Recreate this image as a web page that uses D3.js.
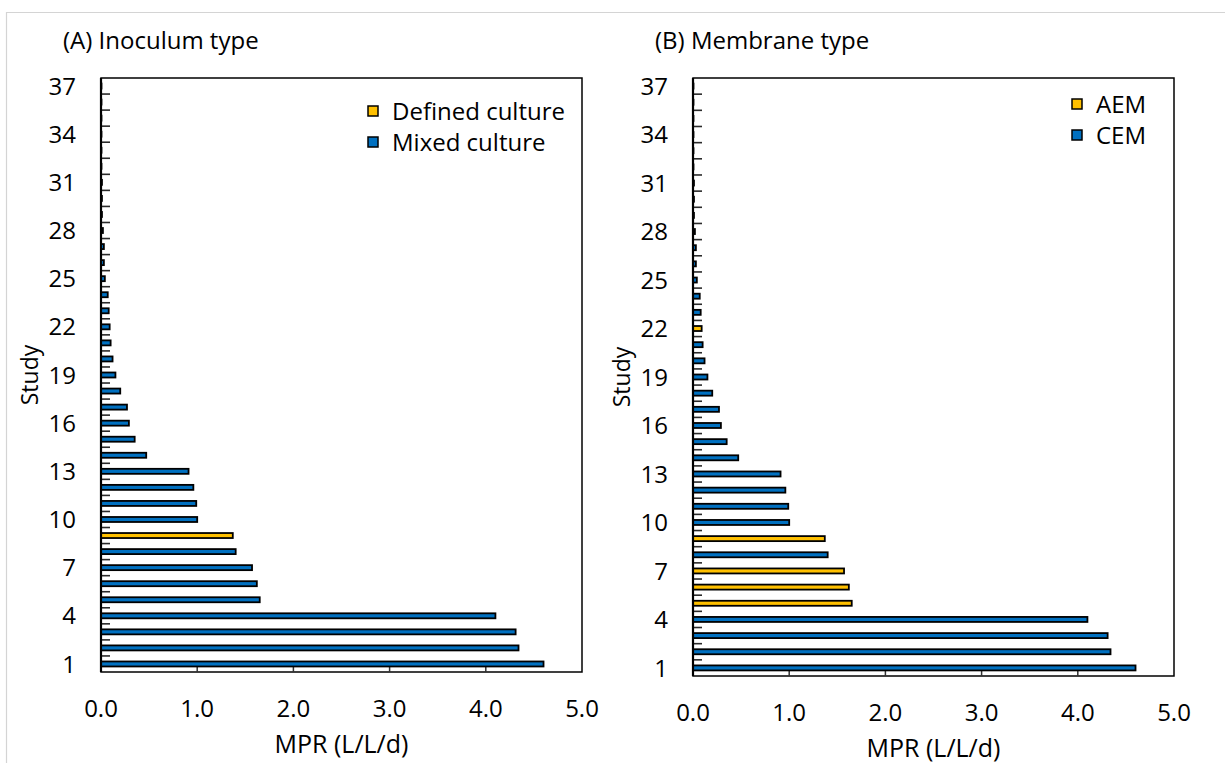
<!DOCTYPE html>
<html>
<head>
<meta charset="utf-8">
<script src="https://cdn.jsdelivr.net/npm/d3@7"></script>
<style>
    body { margin: 0; background: #ffffff; }
    svg text { font-family: "Open Sans", Lato, sans-serif; fill: #000000; }
</style>
</head>
<body>
<svg id="chart" width="1225" height="763"></svg>
<script>
// study numbers, 1 at the bottom of each panel
const studies = [1, 2, 3, 4, 5, 6, 7, 8, 9, 10, 11, 12, 13, 14, 15, 16, 17, 18, 19,
    20, 21, 22, 23, 24, 25, 26, 27, 28, 29, 30, 31, 32, 33, 34, 35, 36, 37];

// methane production rate, L/L/d
const mprValues = [4.60, 4.34, 4.31, 4.10, 1.65, 1.62, 1.57, 1.40, 1.37, 1.00,
    0.99, 0.96, 0.91, 0.47, 0.35, 0.29, 0.27, 0.20, 0.15, 0.12,
    0.10, 0.09, 0.08, 0.07, 0.04, 0.03, 0.03, 0.02, 0.01, 0.01,
    0.01, 0.005, 0.005, 0.005, 0.005, 0.005, 0.005];

const definedCultureStudies = [9];
const aemStudies = [5, 6, 7, 9, 22];

const studyTicks = [1, 4, 7, 10, 13, 16, 19, 22, 25, 28, 31, 34, 37];
const mprTicks = [0, 1, 2, 3, 4, 5];

const inoculumLabels = ["Defined culture", "Mixed culture"];
const membraneLabels = ["AEM", "CEM"];

const YELLOW = "#FFC000";
const BLUE = "#0070C0";

const svg = d3.select("#chart");

// light frame round the figure
svg.append("path")
    .attr("d", "M6.5,763 V12.5 H1225")
    .attr("fill", "none")
    .attr("stroke", "#d4d4d4")
    .attr("stroke-width", 1.2);

function drawPanel(opt) {
    const g = svg.append("g");

    const x = d3.scaleLinear()
        .domain([0, 5])
        .range([opt.x0, opt.x1]);

    const y = d3.scaleBand()
        .domain(studies.slice().reverse())
        .range([opt.top, opt.bottom])
        .paddingInner(0)
        .paddingOuter(0);

    const bw = y.bandwidth();
    const barH = 5;

    // plot border
    g.append("rect")
        .attr("x", opt.x0)
        .attr("y", opt.top)
        .attr("width", opt.x1 - opt.x0)
        .attr("height", opt.bottom - opt.top)
        .attr("fill", "none")
        .attr("stroke", "#000")
        .attr("stroke-width", 1.5);

    // category tick marks between studies
    g.selectAll("line.ytick")
        .data(studies.slice(1))
        .enter()
        .append("line")
        .attr("class", "ytick")
        .attr("x1", opt.x0)
        .attr("x2", opt.x0 + 9)
        .attr("y1", (d) => y(d) + bw)
        .attr("y2", (d) => y(d) + bw)
        .attr("stroke", "#2a2a2a")
        .attr("stroke-width", 1.6);

    // value ticks pointing up from the bottom axis
    g.selectAll("line.xtick")
        .data(mprTicks.slice(1, -1))
        .enter()
        .append("line")
        .attr("class", "xtick")
        .attr("x1", (d) => x(d))
        .attr("x2", (d) => x(d))
        .attr("y1", opt.bottom)
        .attr("y2", opt.bottom - 8)
        .attr("stroke", "#333")
        .attr("stroke-width", 1.5);

    // bars
    g.selectAll("rect.bar")
        .data(studies)
        .enter()
        .append("rect")
        .attr("class", "bar")
        .attr("x", x(0))
        .attr("y", (d) => y(d) + (bw - barH) / 2)
        .attr("width", (d) => x(mprValues[d - 1]) - x(0))
        .attr("height", barH)
        .attr("fill", (d) => opt.colorOf(d))
        .attr("stroke", "#000")
        .attr("stroke-width", 1.8);

    // y axis line on top
    g.append("line")
        .attr("x1", opt.x0)
        .attr("x2", opt.x0)
        .attr("y1", opt.top)
        .attr("y2", opt.bottom)
        .attr("stroke", "#000")
        .attr("stroke-width", 2.2);

    // study labels
    g.selectAll("text.ylabel")
        .data(studyTicks)
        .enter()
        .append("text")
        .attr("class", "ylabel")
        .attr("x", opt.x0 - 25)
        .attr("y", (d) => y(d) + bw / 2)
        .attr("dy", "0.36em")
        .attr("text-anchor", "end")
        .style("font-size", "24px")
        .text((d) => d);

    // value labels
    g.selectAll("text.xlabel")
        .data(mprTicks)
        .enter()
        .append("text")
        .attr("class", "xlabel")
        .attr("x", (d) => x(d))
        .attr("y", opt.bottom + 36)
        .attr("dy", "0.36em")
        .attr("text-anchor", "middle")
        .style("font-size", "24px")
        .text((d) => d.toFixed(1));

    g.append("text")
        .attr("x", (opt.x0 + opt.x1) / 2)
        .attr("y", opt.bottom + 72)
        .attr("dy", "0.36em")
        .attr("text-anchor", "middle")
        .style("font-size", "25px")
        .text("MPR (L/L/d)");

    g.append("text")
        .attr("transform", `translate(${opt.x0 - 71},${(opt.top + opt.bottom) / 2}) rotate(-90)`)
        .attr("dy", "0.36em")
        .attr("text-anchor", "middle")
        .style("font-size", "23px")
        .text("Study");

    g.append("text")
        .attr("x", opt.x0 - 38)
        .attr("y", 40)
        .attr("dy", "0.36em")
        .style("font-size", "24px")
        .text(opt.title);

    // legend
    const legend = g.selectAll("g.legend")
        .data(opt.legend)
        .enter()
        .append("g")
        .attr("class", "legend")
        .attr("transform", (d, i) => `translate(${opt.legendX},${opt.legendY + i * 31})`);

    legend.append("rect")
        .attr("x", 0)
        .attr("y", -5)
        .attr("width", 10)
        .attr("height", 10)
        .attr("fill", (d, i) => i === 0 ? YELLOW : BLUE)
        .attr("stroke", "#000")
        .attr("stroke-width", 1.5);

    legend.append("text")
        .attr("x", 24)
        .attr("y", 0)
        .attr("dy", "0.36em")
        .style("font-size", "24px")
        .text((d) => d);
}

drawPanel({
    x0: 101, x1: 582, top: 78, bottom: 672,
    title: "(A) Inoculum type",
    legend: inoculumLabels,
    legendX: 368, legendY: 111,
    colorOf: (d) => definedCultureStudies.includes(d) ? YELLOW : BLUE
});

drawPanel({
    x0: 693, x1: 1174, top: 78, bottom: 676,
    title: "(B) Membrane type",
    legend: membraneLabels,
    legendX: 1072, legendY: 104,
    colorOf: (d) => aemStudies.includes(d) ? YELLOW : BLUE
});
</script>
</body>
</html>
